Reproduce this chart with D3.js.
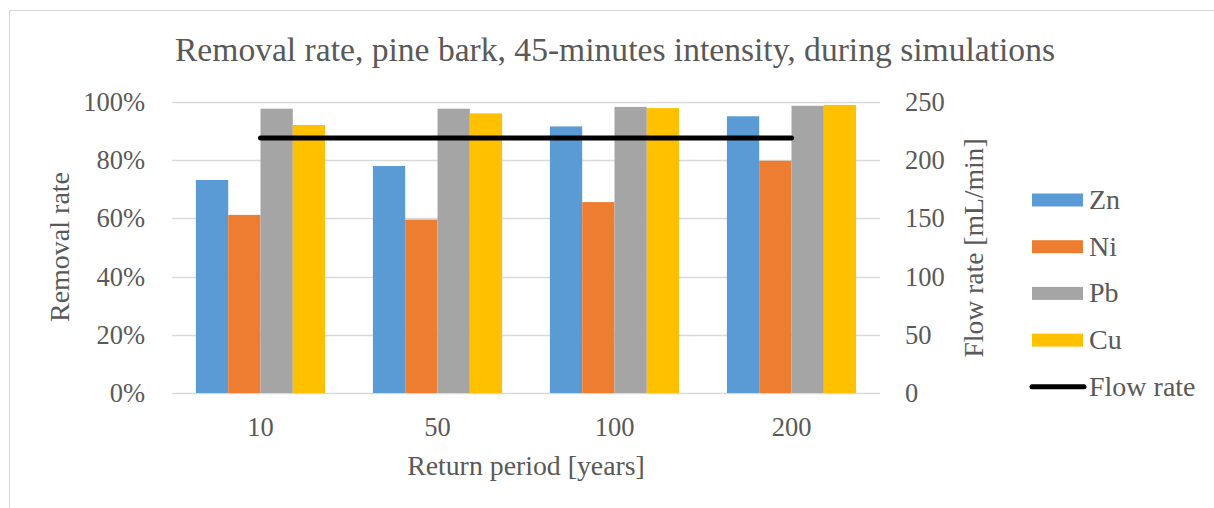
<!DOCTYPE html>
<html>
<head>
<meta charset="utf-8">
<script src="https://cdn.jsdelivr.net/npm/d3@7/dist/d3.min.js"></script>
<style>
  html, body { margin: 0; padding: 0; background: #fff; }
  svg { display: block; }
  text { font-family: "Liberation Serif", "Times New Roman", serif; fill: #595959; }
</style>
</head>
<body>
<svg id="chart" width="1214" height="508"></svg>
<script>
// Return periods (categories)
const periods = ["10", "50", "100", "200"];
// Removal rates per metal (fraction)
const zn = [0.732, 0.780, 0.916, 0.951];
const ni = [0.612, 0.596, 0.656, 0.798];
const pb = [0.977, 0.977, 0.983, 0.987];
const cu = [0.921, 0.961, 0.979, 0.990];
// Flow rate during the simulations [mL/min]
const flowRate = [219, 219, 219, 219];
// Axis ticks
const leftTicks = [0, 0.2, 0.4, 0.6, 0.8, 1.0];
const rightTicks = [0, 50, 100, 150, 200, 250];

const seriesNames = ["Zn", "Ni", "Pb", "Cu"];
const seriesValues = [zn, ni, pb, cu];
const colors = ["#5B9BD5", "#ED7D31", "#A5A5A5", "#FFC000"];

const svg = d3.select("#chart");
const plot = { left: 172, right: 880, top: 102, bottom: 393 };

// Outer chart border
svg.append("rect")
  .attr("x", 9.5).attr("y", 10.5)
  .attr("width", 1220).attr("height", 520)
  .attr("fill", "none").attr("stroke", "#D9D9D9").attr("stroke-width", 1);

const x0 = d3.scaleBand().domain(periods).range([plot.left, plot.right]).padding(0);
const x1 = d3.scaleBand().domain(seriesNames).range([0, x0.bandwidth()])
  .paddingInner(0).paddingOuter(0.74);
const yL = d3.scaleLinear().domain([0, 1]).range([plot.bottom, plot.top]);
const yR = d3.scaleLinear().domain([0, 250]).range([plot.bottom, plot.top]);

// Gridlines
svg.append("g").selectAll("line").data(leftTicks).join("line")
  .attr("x1", plot.left).attr("x2", plot.right)
  .attr("y1", d => Math.round(yL(d)) + 0.5).attr("y2", d => Math.round(yL(d)) + 0.5)
  .attr("stroke", "#D9D9D9").attr("stroke-width", 1.5);

// Bars
const rows = periods.map((p, i) => ({ p, vals: seriesNames.map((s, j) => ({ s, v: seriesValues[j][i], c: colors[j] })) }));
svg.append("g").selectAll("g").data(rows).join("g")
  .attr("transform", d => `translate(${x0(d.p)},0)`)
  .selectAll("rect").data(d => d.vals).join("rect")
  .attr("x", d => x1(d.s)).attr("width", x1.bandwidth())
  .attr("y", d => yL(d.v)).attr("height", d => yL(0) - yL(d.v))
  .attr("fill", d => d.c);

// Flow rate line
const line = d3.line()
  .x((d, i) => x0(periods[i]) + x0.bandwidth() / 2)
  .y(d => yR(d));
svg.append("path").datum(flowRate)
  .attr("d", line).attr("fill", "none")
  .attr("stroke", "#000").attr("stroke-width", 5)
  .attr("stroke-linecap", "round").attr("stroke-linejoin", "round");

// Left axis labels
const fmtPct = d3.format(".0%");
svg.append("g").selectAll("text").data(leftTicks).join("text")
  .attr("x", 145).attr("y", d => yL(d) + 9)
  .attr("text-anchor", "end").attr("font-size", 26.5)
  .text(d => fmtPct(d));

// Right axis labels
svg.append("g").selectAll("text").data(rightTicks).join("text")
  .attr("x", 905).attr("y", d => yR(d) + 9)
  .attr("text-anchor", "start").attr("font-size", 26.5)
  .text(d => d);

// Category labels
svg.append("g").selectAll("text").data(periods).join("text")
  .attr("x", d => x0(d) + x0.bandwidth() / 2).attr("y", 436)
  .attr("text-anchor", "middle").attr("font-size", 26.5)
  .text(d => d);

// Titles
svg.append("text").attr("x", 615).attr("y", 61)
  .attr("text-anchor", "middle").attr("font-size", 33.6)
  .text("Removal rate, pine bark, 45-minutes intensity, during simulations");

svg.append("text").attr("x", (plot.left + plot.right) / 2).attr("y", 475)
  .attr("text-anchor", "middle").attr("font-size", 27.8)
  .text("Return period [years]");

svg.append("text")
  .attr("transform", "translate(69,247) rotate(-90)")
  .attr("text-anchor", "middle").attr("font-size", 28)
  .text("Removal rate");

svg.append("text")
  .attr("transform", "translate(983,248) rotate(-90)")
  .attr("text-anchor", "middle").attr("font-size", 27.6)
  .text("Flow rate [mL/min]");

// Legend
const legendItems = seriesNames.map((s, i) => ({ name: s, color: colors[i], type: "bar" }))
  .concat([{ name: "Flow rate", color: "#000", type: "line" }]);
const lg = svg.append("g").selectAll("g").data(legendItems).join("g")
  .attr("transform", (d, i) => `translate(1032,${200 + i * 46.7})`);
lg.filter(d => d.type === "bar").append("rect")
  .attr("x", 0).attr("y", -6.5).attr("width", 51).attr("height", 13)
  .attr("fill", d => d.color);
lg.filter(d => d.type === "line").append("line")
  .attr("x1", 0).attr("x2", 52).attr("y1", 0).attr("y2", 0)
  .attr("stroke", "#000").attr("stroke-width", 5).attr("stroke-linecap", "round");
lg.append("text").attr("x", 57).attr("y", 9).attr("font-size", 28)
  .text(d => d.name);
</script>
</body>
</html>
